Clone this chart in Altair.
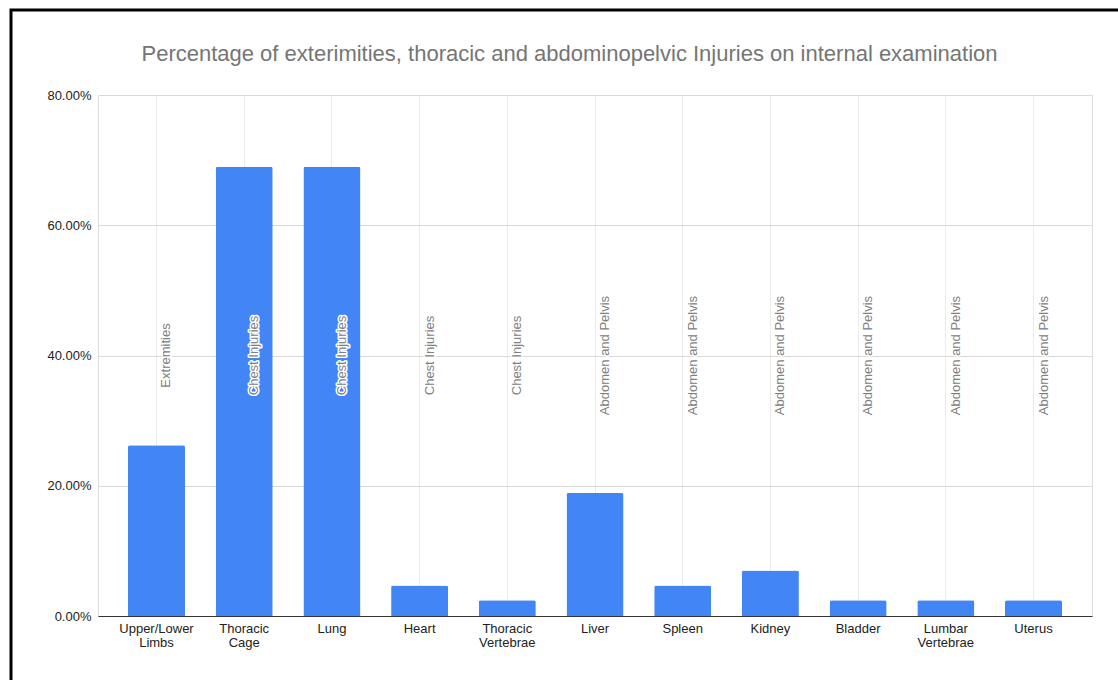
import altair as alt
import pandas as pd

title_text = "Percentage of exterimities, thoracic and abdominopelvic Injuries on internal examination"
categories = ["Upper/Lower Limbs", "Thoracic Cage", "Lung", "Heart", "Thoracic Vertebrae",
              "Liver", "Spleen", "Kidney", "Bladder", "Lumbar Vertebrae", "Uterus"]
values = [0.262, 0.690, 0.690, 0.047, 0.024, 0.189, 0.047, 0.070, 0.024, 0.024, 0.024]
groups = ["Extremities", "Chest Injuries", "Chest Injuries", "Chest Injuries", "Chest Injuries",
          "Abdomen and Pelvis", "Abdomen and Pelvis", "Abdomen and Pelvis", "Abdomen and Pelvis",
          "Abdomen and Pelvis", "Abdomen and Pelvis"]
y_ticks = [0, 0.2, 0.4, 0.6, 0.8]

df = pd.DataFrame({"category": categories, "value": values, "group": groups})

FONT = "Liberation Sans"
W, H = 994, 521

x_enc = alt.X("category:N", sort=categories, title=None,
              scale=alt.Scale(paddingInner=0.35, paddingOuter=0.342),
              axis=alt.Axis(labelAngle=0, ticks=False, grid=True, bandPosition=0.5,
                            gridColor="#ebebeb", domainColor="#333333",
                            labelColor="#222222", labelFontSize=13, labelFont=FONT,
                            labelPadding=6, labelLineHeight=14,
                            labelExpr="split(datum.label, ' ')"))
y_enc = alt.Y("value:Q", title=None,
              scale=alt.Scale(domain=[0, 0.8], nice=False),
              axis=alt.Axis(values=y_ticks, format=".2%", domain=False, ticks=False,
                            gridColor="#d9d9d9", labelColor="#222222", labelFontSize=13,
                            labelFont=FONT, labelPadding=7))

base = alt.Chart(df)

bars = base.mark_bar(color="#4285F4", cornerRadiusTopLeft=2, cornerRadiusTopRight=2).encode(
    x=x_enc, y=y_enc)

halo = base.mark_text(angle=270, baseline="middle", align="center", dy=10,
                      fontSize=13, font=FONT, color="#ffffff", stroke="#ffffff",
                      strokeWidth=3, strokeJoin="round").encode(
    x=alt.X("category:N", sort=categories), y=alt.datum(0.4), text="group:N")

labels = base.mark_text(angle=270, baseline="middle", align="center", dy=10,
                        fontSize=13, font=FONT, color="#808080").encode(
    x=alt.X("category:N", sort=categories), y=alt.datum(0.4), text="group:N")

one = pd.DataFrame({"a": [0]})

title = alt.Chart(one).mark_text(
    fontSize=22, font=FONT, color="#757575", align="center", baseline="middle",
    clip=False).encode(
    x=alt.value(471.5), y=alt.value(-41), text=alt.value(title_text))

frame = alt.Chart(one).mark_rect(
    fill=None, stroke="#000000", strokeWidth=3, clip=False).encode(
    x=alt.value(-87), x2=alt.value(W + 60), y=alt.value(-85), y2=alt.value(H + 100))

chart = alt.layer(bars, halo, labels, title, frame).properties(
    width=W, height=H,
    padding={"left": 98, "top": 95, "right": 26, "bottom": 64},
    autosize=alt.AutoSizeParams(type="none"),
).configure_view(stroke=None).configure(background="#ffffff")

chart.save("out.html", embed_options={"renderer": "svg", "actions": False})
